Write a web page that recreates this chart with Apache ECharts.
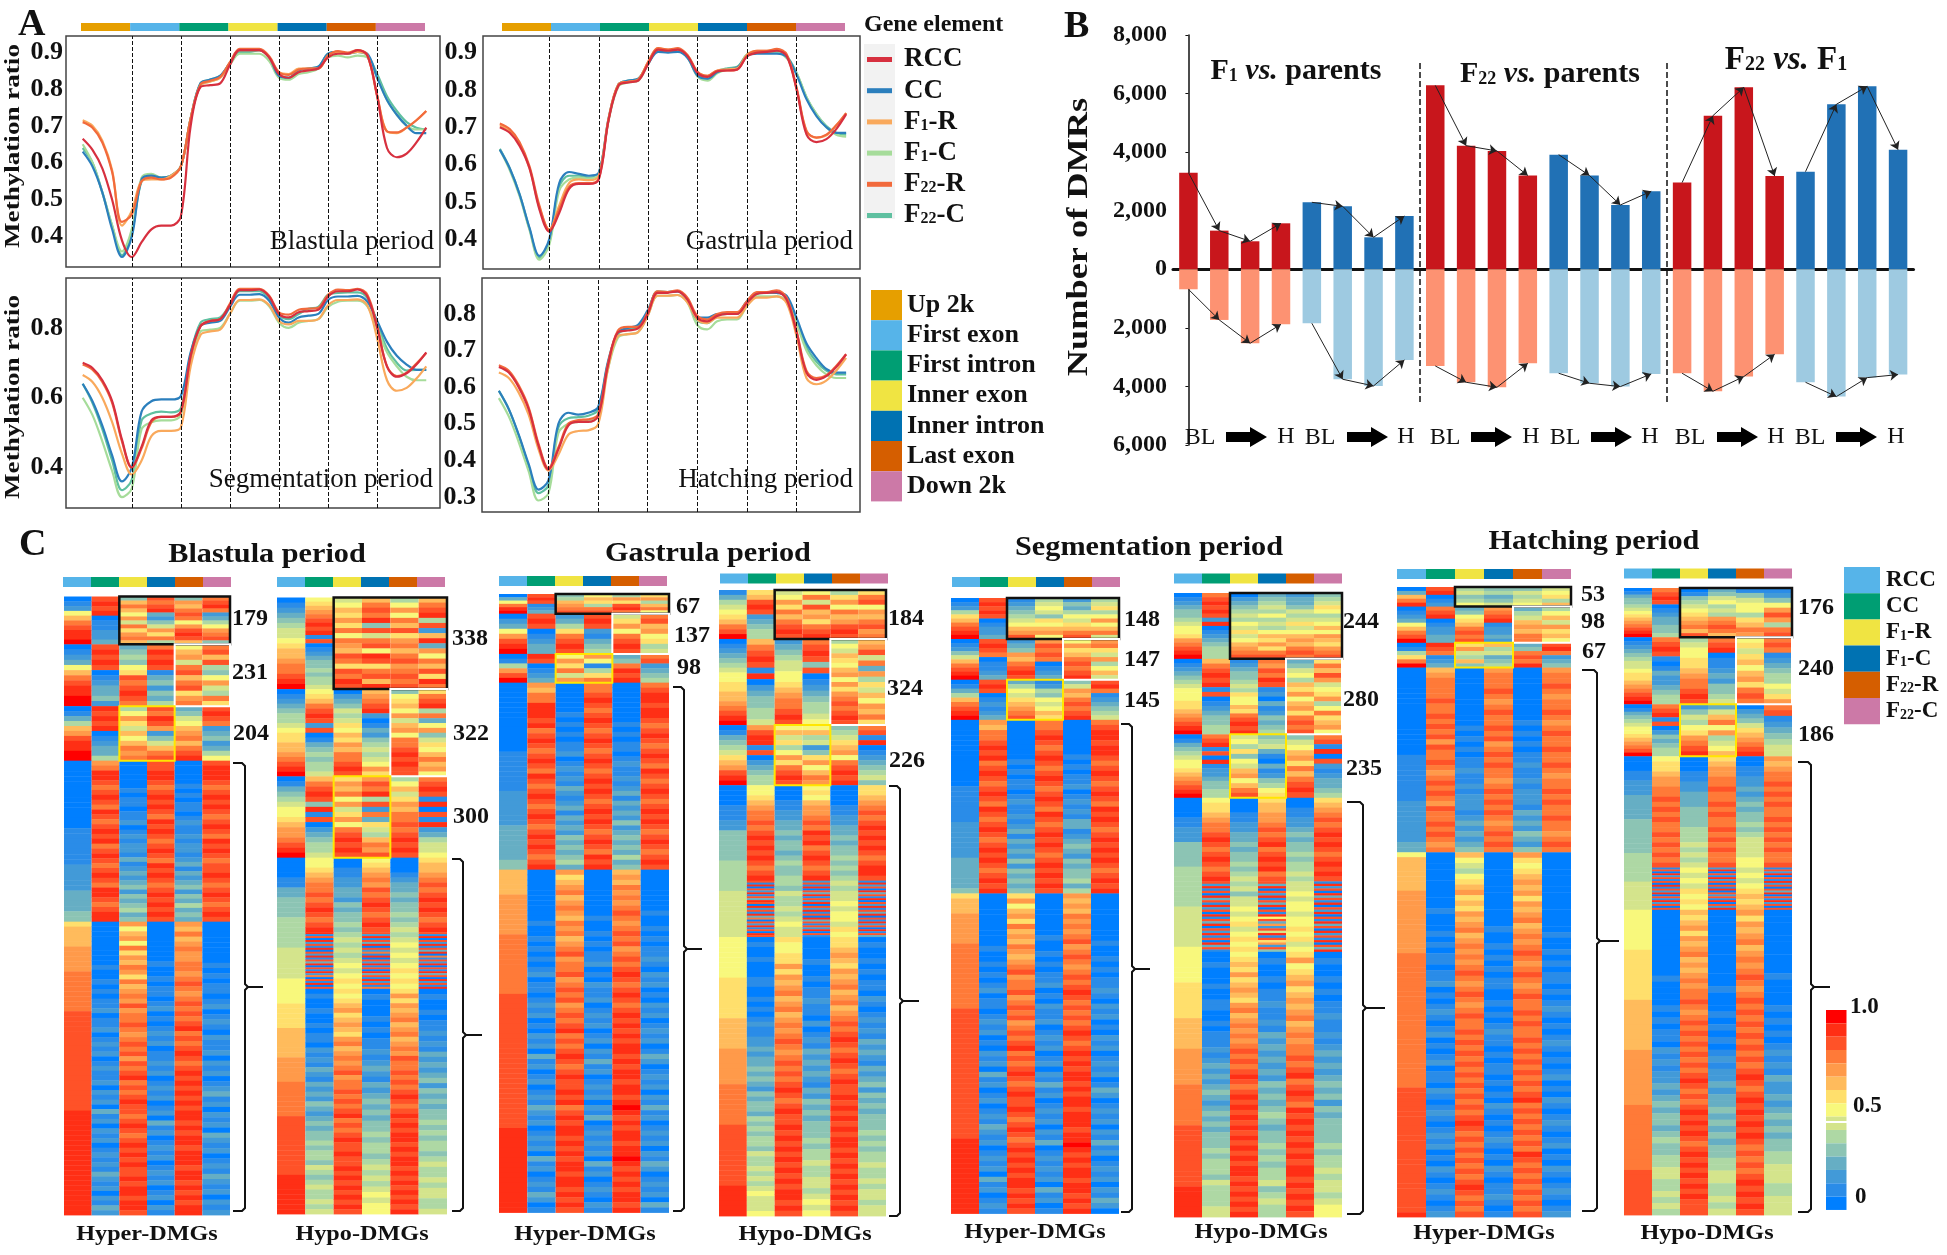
<!DOCTYPE html>
<html>
<head>
<meta charset="utf-8">
<title>Methylation figure</title>
<style>
  html, body { margin: 0; padding: 0; background: #fff; }
  #main { width: 1947px; height: 1255px; }
</style>
<script src="https://cdn.jsdelivr.net/npm/echarts@6/dist/echarts.min.js"></script>
</head>
<body>
<div id="main"></div>
<script>
// ---- panel A: methylation ratio along the gene body
const lineNames = ['F22-C', 'F1-C', 'CC', 'F1-R', 'F22-R', 'RCC']
const legendNames = ['RCC', 'CC', 'F1-R', 'F1-C', 'F22-R', 'F22-C']
const geneElements = ['Up 2k', 'First exon', 'First intron', 'Inner exon', 'Inner intron', 'Last exon', 'Down 2k']
const xBins = [0,2,4,6,8,10, 12,14,16,18,20, 22,24,26,28,30, 32,34,36,38,40, 42,44,46,48,50, 52,54,56,58,60, 62,64,66,68,70]
const segmentEdges = [10, 20, 30, 40, 50, 60]

const blastulaLines = {
  'RCC':   [.665,.635,.585,.500,.390,.345, .385,.420,.430,.430,.455, .700,.805,.810,.815,.865, .905,.905,.905,.885,.840, .830,.845,.850,.855,.885, .895,.895,.905,.890,.780, .640,.615,.625,.655,.695],
  'CC':    [.630,.590,.520,.420,.345,.400, .555,.565,.560,.565,.590, .720,.815,.825,.835,.870, .905,.905,.905,.885,.835, .830,.850,.855,.860,.895, .900,.895,.900,.895,.830, .770,.730,.700,.680,.680],
  'F1-R':  [.715,.700,.660,.580,.430,.470, .550,.555,.555,.565,.590, .720,.810,.820,.830,.870, .905,.905,.905,.885,.845, .840,.855,.855,.855,.890, .900,.895,.900,.890,.780, .685,.680,.695,.715,.740],
  'F1-C':  [.650,.600,.520,.430,.360,.420, .560,.570,.560,.565,.590, .720,.810,.820,.830,.865, .895,.895,.895,.875,.830, .825,.840,.845,.855,.885, .890,.885,.890,.885,.830, .770,.730,.700,.690,.690],
  'F22-R': [.710,.695,.655,.575,.440,.460, .550,.560,.555,.560,.590, .720,.812,.822,.832,.872, .908,.908,.908,.888,.845, .838,.852,.855,.855,.890, .902,.898,.905,.892,.782, .685,.682,.695,.715,.740],
  'F22-C': [.640,.600,.520,.430,.350,.410, .550,.565,.560,.565,.590, .720,.815,.825,.835,.870, .900,.900,.905,.885,.835, .830,.850,.855,.860,.895, .900,.895,.900,.890,.840, .780,.740,.710,.695,.690]
}
const gastrulaLines = {
  'RCC':   [.700,.685,.650,.590,.480,.420, .470,.535,.548,.548,.560, .720,.812,.820,.825,.870, .908,.905,.908,.890,.845, .835,.850,.852,.855,.890, .900,.902,.905,.890,.800, .680,.660,.668,.695,.735],
  'CC':    [.640,.590,.520,.430,.355,.400, .550,.580,.575,.570,.578, .725,.815,.825,.830,.870, .902,.900,.902,.885,.838, .830,.848,.855,.860,.892, .897,.897,.897,.888,.840, .775,.730,.700,.685,.685],
  'F1-R':  [.705,.690,.655,.590,.485,.425, .490,.550,.560,.558,.570, .725,.815,.822,.828,.875, .912,.908,.910,.892,.848, .838,.852,.855,.858,.895, .905,.905,.908,.892,.802, .688,.672,.678,.705,.738],
  'F1-C':  [.640,.585,.515,.425,.345,.385, .530,.560,.565,.562,.575, .720,.810,.820,.825,.870, .905,.905,.905,.885,.835, .825,.845,.855,.860,.895, .900,.900,.900,.885,.845, .780,.735,.700,.680,.675],
  'F22-R': [.710,.695,.660,.595,.490,.425, .480,.540,.550,.550,.562, .722,.815,.822,.828,.875, .912,.908,.912,.892,.848, .838,.852,.852,.855,.893, .905,.905,.910,.895,.805, .690,.672,.680,.705,.738],
  'F22-C': [.642,.590,.520,.428,.350,.392, .540,.570,.570,.565,.575, .722,.815,.825,.830,.872, .908,.905,.908,.888,.840, .830,.850,.858,.862,.895, .902,.902,.902,.890,.845, .780,.735,.703,.685,.680]
}
const segmentationLines = {
  'RCC':   [.700,.685,.650,.590,.480,.400, .460,.535,.545,.545,.560, .720,.805,.820,.825,.865, .908,.908,.910,.890,.840, .830,.845,.848,.852,.890, .905,.905,.910,.890,.800, .690,.660,.670,.695,.730],
  'CC':    [.640,.590,.520,.435,.360,.400, .560,.590,.595,.595,.605, .730,.805,.815,.820,.860, .895,.895,.897,.878,.830, .815,.830,.835,.840,.880, .890,.890,.892,.875,.820, .760,.720,.695,.680,.680],
  'F1-R':  [.665,.645,.600,.530,.440,.380, .420,.490,.505,.505,.515, .690,.780,.790,.795,.840, .880,.880,.882,.865,.820, .810,.820,.820,.825,.865, .880,.880,.882,.865,.770, .650,.620,.628,.655,.690],
  'F1-C':  [.600,.550,.475,.390,.315,.340, .510,.530,.535,.535,.550, .700,.790,.795,.800,.840, .878,.878,.880,.862,.815, .800,.815,.820,.825,.860, .875,.878,.878,.862,.800, .730,.690,.660,.650,.650],
  'F22-R': [.695,.680,.645,.585,.475,.400, .455,.530,.545,.545,.558, .718,.805,.820,.825,.870, .912,.912,.912,.892,.845, .838,.852,.855,.858,.895, .910,.908,.912,.895,.805, .690,.662,.672,.698,.728],
  'F22-C': [.640,.585,.510,.420,.335,.365, .535,.555,.560,.558,.570, .725,.815,.825,.830,.865, .905,.905,.905,.885,.838, .825,.840,.855,.860,.895, .900,.902,.902,.885,.815, .740,.700,.678,.680,.680]
}
const hatchingLines = {
  'RCC':   [.655,.640,.600,.540,.440,.375, .430,.495,.505,.505,.520, .660,.750,.755,.760,.800, .858,.858,.862,.840,.790, .780,.795,.800,.800,.830, .855,.858,.860,.840,.750, .640,.620,.630,.655,.690],
  'CC':    [.590,.540,.470,.390,.320,.345, .500,.530,.525,.530,.545, .670,.750,.762,.770,.810, .860,.860,.862,.842,.790, .790,.800,.800,.802,.835, .858,.860,.858,.850,.790, .720,.680,.650,.640,.640],
  'F1-R':  [.640,.625,.585,.525,.430,.372, .415,.470,.480,.482,.498, .650,.740,.745,.750,.795, .850,.850,.852,.832,.785, .775,.790,.790,.790,.822, .845,.845,.848,.830,.740, .625,.608,.618,.645,.680],
  'F1-C':  [.570,.520,.450,.370,.290,.310, .475,.500,.505,.508,.525, .650,.735,.745,.750,.795, .850,.850,.852,.832,.770, .758,.780,.785,.785,.822, .848,.848,.848,.835,.775, .700,.660,.635,.625,.625],
  'F22-R': [.660,.645,.605,.545,.445,.378, .435,.500,.510,.512,.525, .665,.755,.765,.765,.805, .862,.860,.865,.845,.795, .785,.800,.805,.805,.835, .860,.860,.865,.845,.755, .645,.625,.632,.658,.690],
  'F22-C': [.590,.540,.468,.385,.310,.332, .490,.515,.518,.522,.538, .665,.745,.758,.765,.805, .862,.860,.862,.840,.782, .775,.795,.800,.800,.832, .855,.858,.858,.845,.780, .710,.670,.645,.635,.635]
}
const ticksBlastula = [0.4, 0.5, 0.6, 0.7, 0.8, 0.9]
const ticksGastrula = [0.4, 0.5, 0.6, 0.7, 0.8, 0.9]
const ticksSegmentation = [0.4, 0.6, 0.8]
const ticksHatching = [0.3, 0.4, 0.5, 0.6, 0.7, 0.8]

// ---- panel B: DMR counts, hyper above the axis, hypo below
const dmrUp = [3300,1320,956,1570, 2287,2150,1092,1820, 6280,4220,4040,3200, 3915,3200,2196,2663, 2960,5246,6213,3186, 3334,5633,6247,4085]
const dmrDown = [683,1730,2526,1878, 1844,3755,3983,3095, 3300,3858,4029,3209, 3550,3892,4006,3573, 3550,4165,3664,2902, 3858,4347,3699,3596]
const dmrTicks = [-6000, -4000, -2000, 0, 2000, 4000, 6000, 8000]

// ---- panel C: heatmap cells. One char per row, base 15 level (0 blue ... e red).
// Counts per block come from the labels beside the heatmaps, the last ones are estimated.
const blastulaHyperCounts = [179, 231, 204, 602, 1097]
const blastulaHyper = [
  ['01279bcdde', 'cdcd011223', '49b97a6b8ab9', 'cbcd3246a8b5', '4a9bcb7acdc9', 'bcdb2357abc4'],
  ['012379bcddee', 'cdcdc0123342', '345478cbcdcb', 'bdcdc1342435', '79a6bc9bc8ab', 'bc9c547a65b8'],
  ['01359acddee', 'dcdcd012335', '57a86979bab', 'cbdca2469bc', '34679ab9bcd', 'cdcb2342357'],
  ['0000000000000111111122222333344', 'abddcbcdcbdcbcdcdbcdcbcdcbddcbcdd', '00000010110112012122131232342434534', 'ccddcbcdcdcbdcdcbcdcbdcdcbcdcdcdc', '00000101011012112122123132342435343', 'cdddcbcdcdcbcdcbdcdcbccdcbcdcbcdc'],
  ['89999aaaaabbbbbbbbccccccccccccccccccccddddddddddddddddddddd', '0000000001001010112011201212012112021203120212012121321202132', 'a79a7b8a9ba8b9abacabbcbabcbcacbcdbcbcdccbcdcbcdcdcdccdcddcddc', '00000000100101101201012120112120121201203120121201212012021', 'a9b9abaabbabcbabcbcbcdbcbcdcbcdcdcdcdcddcdcddcdddcddcdcdcdd', '000000001010110120121021120212012312021203212012132120212']
]
const blastulaHypoCounts = [338, 322, 300, 275, 209, 831]
const blastulaHypo = [
  ['012345667899abbcde', '789abcdcd1c01234454556', '6798a8b7ba9cb8cbdc', '9bcbd4c6bc7dc8bc9d', '57a7b9c8ab9bcabcbc', '9bcd5c29d3a7b9c8db'],
  ['0123455678899abcde', '789bcdc2c013454556', '02346568798a9bbcdc', '9abcd20132456567a8', '47897a69a7bbcdcdcc', '8bcd5b37a46879b9a7'],
  ['0134567789aabcde', '9bcdc4d1c0234556', '8a9b7a68a7bcdcdc', 'acbd5c2b38659bac', '57968a9bbcbcdcdc', 'bcdc1d0c1d235667'],
  ['000011334444555', '7789abbcbcdcbcd', '001122332434454', '789abacbcdcbcdc', '000123343445456', '899abcbcdcdcbcd'],
  ['55566666677', 'd1c0d2c1d0c2d1c3d0c1d2b0c1d0c', '56565676787', 'c2d1c3d0c2b1d0c2d1c0d3c1d2c1b', '56767678787', 'c1d0c2d1c3d0b1c2d0c1d3c0d2c1d'],
  ['77788888999999aaaaabbbbbbbccccccccccccdddddddd', '0100100101102121321323243234344545546545655656', '8789a89a98ab9ababcabbcbcbcdbcbcdccdccdcdcdcdcdc', '01000101011212321323434344545545656567677', '8a8a9ab9ab9abacbbcbcbcdcbcdcdcddcdcddcdcdcdcdcd', '0100101121213232342434344545455456556566556']
]
const gastrulaHyperCounts = [67, 137, 98, 637, 1168]
const gastrulaHyper = [
  ['037bde', 'cdc123', '459abc', '7985bc', '5a8cdb', '8a59b7'],
  ['0237acde', 'cdc01233', '2358bcdc', 'cdc21345', '68a7bcdc', 'bc9a7856'],
  ['015ace', 'dc0123', '7a8b6a', 'a7158b', '34bdcd', 'bc2345'],
  ['00000000000000111111112222222333333344', 'a9bbdddcdbcdcbcdcbdcbcdcbcdcbcdcdcbcd', '00000010101011201212132123132324343453', 'bbcdcbcdcbcdcbcdcbcdcdcbcdcdcbcdcbdcd', '00000000101011012112123132324234343534', 'bcddcddcbcdcbcdcbdcbcdcbcdcdcbcdcbcdc'],
  ['99999aaaaaaaabbbbbbbbbbbbcccccccccccccccccccccccccccddddddddddddddddd', '0000000000100101010120110121201021203120120121321201212031201213201', 'a89ab9aba9bab9abcabbcabcbcabcbcdbcbcdcbcdccdcdbcdcddcdcdcddcddcdcdc', '0000000001001010112010211201212012021312012120213012121203120121021', '9a9bababcbabcbcabcbcdcbcdcbcdcdcdcddcdcddcddcdedcdcddcddedcdcdcddcd', '0000000010010101121021201021201212013201212021312012120213201212031']
]
const gastrulaHypoCounts = [184, 324, 226, 359, 212, 1049]
const gastrulaHypo = [
  ['1356789bce', '89cdc23455', '67a8b9bcdc', '7b6c9a8bcd', '58a7b9acdc', '8bc7a9bcab'],
  ['0123456778899abcde', '9bcdc1d02344556', '2345667789abbcdc', 'bcdc4c012345567', '5769879a7a8abcbcdc', '9ac6b3a58697a9b8'],
  ['01345689acde', 'acdd1c023455', '796857a8bcdc', '7956248a79ba', '45689a7bcdcd', 'bc1d01234564'],
  ['0000111224444445555', '7789abbcbcdcdcdcbcd', '0001122334344345445', '7879aabcbdcdbcdcbcd', '0000112233434454545', '889abcbcdcdcdcbcddc'],
  ['55666666666', 'c1d0c2d1c3dc0d2c1d3b0c2d1c0dc', '54655656766', '2c1d0c3d1c2d0c2d1c0d3c1c2d0c1', '65667677687', '1d2c0d3c1d0c2d1c3d0c1d2c0d1c3'],
  ['7777777788888888999999aaaaaaabbbbbbbbccccccccccccdddddd', '01001000110010101211223233434324344354545546556565676667', '87788a8a9ab9ab9ababcbabcbcbcdcbcdccdcdcdcdcdcdcddcdc', '00001001011211020121323232132434344454556556656767', '889a98a9ab9ab9abcbcdcbcdcbcdccdcdcdcdcddcdcdcdcdcdcdc', '0100101011021012121323213234243434445454556556566566']
]
const segmentationHyperCounts = [148, 147, 145, 627, 1156]
const segmentationHyper = [
  ['012589bcde', 'cdcdc01223', '12345679ac', '56764879a7', '24357689bc', '56857a79b6'],
  ['012469bcde', 'cdcb01123', '234a9bcdc', 'acbcb0123', '7a89bcbcd', 'ab86a5796'],
  ['01359bcde', 'cdc012123', '357689abc', '125476798', '46a9bcbcd', 'cdb123456'],
  ['0000000000000111111122222223333334', 'a9bbcdcdbcdcbcdcbdcbcdcbcdcdcbcdcd', '00000000101011012112123132324243434', 'bbcdcbcdcbcdcbcdcbdcbcdcdcbcdcdcdc', '00000001010112012121331234324344535', 'bcddcddcbcdcbcdcbdcdcbcdcdcdcbcdcd'],
  ['8999aaaaaabbbbbbbbbbbbbccccccccccccccccccccccccccddddddddddddddd', '0000000000100101012011012120102120312012012132120121203120121', '8a79a8b9a9ba9abcabbcabcbcabcbcdbcbcdcbcdccdcbcdcbcdcdcdcddcdcdc', '0000000010010101120102112012120120213120121202130121212031201', 'a9a9bababcabcbabcbcdcbcbcbcdcbcdcdcddcdcddcdddcddedcdcddcddcdcd', '0000000001001010112102120102120121201320121202131201212021320']
]
const segmentationHypoCounts = [244, 280, 235, 310, 261, 983]
const segmentationHypo = [
  ['01234456778abcde', 'bcdcdc2d01234555', '0234565768679abc', '345657565798a8bc', '23346568679a9bcb', '4568756797a98abc'],
  ['0123456777889abcde', '9bcdcd1c01234455', '1234456587798bcdcd', 'bacbdc1203124345', '3467598a79a8bcbc', '8b9ca678a57b89a7'],
  ['0134567789abcde', 'bcd1c0d12234455', '67584769a79bc', '4563103124578', '4679a8b9bcdc', 'bc1d0c2123345'],
  ['00001122244444555', '7889abbcdcbcdcbcd', '00011223343445456', '899aabcbcdbcdcdbc', '00112234344545565', '89abcbcdcdcbcdcdc'],
  ['55555666666667', 'c2d1c0d3c1d2c0d1c3d0c2d1c0d3c1', '56466767867878', 'c3d0c2d1c3d0c1d7c3a2c6d1c8a2c4', '66767767787867', '1d2c0d3c1d0c2d0c1d3c0d2c1d0c3d'],
  ['7777778888888999999aaaaaaabbbbbbbbccccccccccccdddddd', '00100010011001011121232323432343434445455546555566', '7898a89a98ab9abababcbcbcdcbcdcdcdcdcdcdcdcddcdcdcdcd', '0100101121121323232324343454344545455645655', '8a789a89a9ab9ababbcbcdbcdcbdcdcdcdcdcddcdcdcdc', '0100101011211212323234342434444545565665677']
]
const hatchingHyperCounts = [53, 98, 67, 500, 987]
const hatchingHyper = [
  ['039bd', 'cd012', '56457', '45346', '46567', '67859'],
  ['012379bce', 'bcd012233', '34789bcbc', 'abcd12232', '3569a9bb', '5796a897'],
  ['0158be', 'dcb123', '8a6594', '956345', '34bcbd', 'cdb234'],
  ['000000000000000001111111112222222233', '9abbbbcbbcbcbcacbbcbabcbcbacbbcbcbab', '00000000000101010112112122212323234', 'abbbcbabcbbcbcabcbcbbabcbcbcbabcbcb', '00000000001010101121121222132324324', 'abbcbabbcbabcbbcbbcbabbcbcbbcbbabcb'],
  ['79999999aaaaaaaaaaaaabbbbbbbbbbbbbbbbbbbbbbbbbbbbccccccccccccccccccccccccccd', '00000000001000101011011201012101201012011021012101212010210121012', '9765789a898a9ab9abababcbabcbabcbbcbcbcbcbcbcbcbcbcdcbcbcbcbcbcdcbcbc', '0000000000000100101010110010101211010110101021010121010210112101', 'a8789a9a8a9ab9ababcbabcbabcbbcbcbbcbcbcbcbcbcdbcbcbcbcbdcbcbcbcbcbc', '0000000000000010010101101012101012101012010210121012010210121012']
]
const hatchingHypoCounts = [176, 240, 186, 398, 151, 1092]
const hatchingHypo = [
  ['0134456789abcde', 'bcdc01233445', '01456789ab9c', '3467565abcb9', '14677589ba', '1247aca5bc'],
  ['012345667889abcde', 'bcdc1013223455', '5677889abbcdc', 'bcd0112324456', '7868979a8bcb', 'bcb123455768a'],
  ['0134567789abce', 'bcd1c0243455', '246578abcd', '369b7a5679', '0234689abcd', 'bc1234566'],
  ['00011222333334444444555', '7889aabbcbcbcbbcbcbcbc', '0001122333444455565656', '89aabbcbbcbcbbcbcbcbbc', '0011223234344545666677', 'a9abbcbcbcbbcbcbcbcbbc'],
  ['555666666', '1c0d2c1c0d1c2d0c1d2c0c', '76768787', '2d0c1d2c0c1d0c2c1d0c2d', '67678989', '1c2d0c1d2c0c3d0c1d2c0c'],
  ['7777777788888888889999999999aaaaaaaaaaabbbbbbbbbbbbbccccccccc', '000000000001000010101102121223234344345445566556565', '989a8a9ab9a9ababbcbabcbcbcbcbcbcdcbcbcdcdcdcbcdcdcdcdcdccc', '000000000000100010101012122323343434344556655656', 'a8a9ab9ababcbabcbcbcbcbcbcbcdcbcdcdcdcdcbcbcbcdcdcdc', '000000000010000101010121213223234343445566655666']
]

const heatmaps = [
  [blastulaHyperCounts, blastulaHyper], [blastulaHypoCounts, blastulaHypo],
  [gastrulaHyperCounts, gastrulaHyper], [gastrulaHypoCounts, gastrulaHypo],
  [segmentationHyperCounts, segmentationHyper], [segmentationHypoCounts, segmentationHypo],
  [hatchingHyperCounts, hatchingHyper], [hatchingHypoCounts, hatchingHypo]
]

// ---- layout and colours
const SERIF = '"Liberation Serif", serif'
const lineColors = { 'RCC': '#d7303f', 'CC': '#2b7fbd', 'F1-R': '#f9a95c', 'F1-C': '#a6dc9a', 'F22-R': '#f26a3c', 'F22-C': '#5fc0a0' }
const elementColors = ['#E69F00', '#56B4E9', '#009E73', '#F0E442', '#0072B2', '#D55E00', '#CC79A7']
const sampleColors = ['#56B4E9', '#009E73', '#F0E442', '#0072B2', '#D55E00', '#CC79A7']
const levelColors = ['#007fff', '#2a8ce8', '#429ad8', '#66aec4', '#8cc4b4', '#aed8a4', '#d4e48c', '#f8f87c', '#ffdf6c', '#ffbb5c', '#ff9a4a', '#ff7a38', '#ff5228', '#ff2f15', '#ff0000']
const boxColors = ['#111', '#fff', '#ffe600']

const linePanels = [
  { rect: [66, 36, 374, 231], min: 0.318, max: 0.943, ticks: ticksBlastula, data: blastulaLines, title: 'Blastula period', tx: 434, ty: 242, strip: [81, 23, 344, 8], margin: 3 },
  { rect: [483, 36, 377, 233], min: 0.32, max: 0.9445, ticks: ticksGastrula, data: gastrulaLines, title: 'Gastrula period', tx: 853, ty: 242, strip: [502, 23, 343, 8], margin: 6 },
  { rect: [66, 278, 374, 230], min: 0.284, max: 0.943, ticks: ticksSegmentation, data: segmentationLines, title: 'Segmentation period', tx: 433, ty: 480, margin: 3 },
  { rect: [482, 278, 378, 234], min: 0.2586, max: 0.8985, ticks: ticksHatching, data: hatchingLines, title: 'Hatching period', tx: 853, ty: 480, margin: 6 }
]

const heatRects = [
  [64, 596.5, 166, 618.5], [277, 597.5, 170, 616.5], [499, 594, 170, 618.5], [719, 590, 167, 626],
  [951, 598, 168, 615.5], [1174, 593, 168, 624], [1397, 587, 174, 630], [1624, 588, 168, 627]
]
const heatStrips = [
  [63, 577, 168], [277, 577, 168], [499, 576, 168], [720, 573.5, 168],
  [952, 577, 168], [1174, 573.5, 168], [1397, 569, 174], [1624, 568.5, 168]
]
const heatTitles = [['Blastula period', 267, 555], ['Gastrula period', 708, 554], ['Segmentation period', 1149, 548], ['Hatching period', 1594, 542]]
const heatFoot = [
  ['Hyper-DMGs', 147, 1234], ['Hypo-DMGs', 362, 1234], ['Hyper-DMGs', 585, 1234], ['Hypo-DMGs', 805, 1234],
  ['Hyper-DMGs', 1035, 1232], ['Hypo-DMGs', 1261, 1232], ['Hyper-DMGs', 1484, 1233], ['Hypo-DMGs', 1707, 1233]
]
const blockLabels = [
  ['179', 232, 619], ['231', 232, 673], ['204', 233, 734], ['338', 452, 639], ['322', 453, 734], ['300', 453, 817],
  ['67', 676, 607], ['137', 674, 636], ['98', 677, 668], ['184', 888, 619], ['324', 887, 689], ['226', 889, 761],
  ['148', 1124, 620], ['147', 1124, 660], ['145', 1124, 701], ['244', 1343, 622], ['280', 1343, 700], ['235', 1346, 769],
  ['53', 1581, 595], ['98', 1581, 622], ['67', 1582, 652], ['176', 1798, 608], ['240', 1798, 669], ['186', 1798, 735]
]
const brackets = [
  [233, 245, 263, 763, 987, 1211], [452, 463, 482, 859, 1035, 1211], [673, 684, 702, 687, 949, 1211], [889, 900, 919, 786, 1001, 1216],
  [1121, 1132, 1150, 724, 969, 1212], [1347, 1363, 1385, 802, 1008, 1214], [1582, 1597, 1619, 670, 941, 1211], [1798, 1811, 1830, 762, 987, 1212]
]
const flowLabels = [[1200, 1226, 1286], [1320, 1347, 1406], [1445, 1471, 1531], [1565, 1591, 1650], [1690, 1717, 1776], [1810, 1836, 1896]]

const grid = [], xAxis = [], yAxis = [], series = [], elements = []

function text(str, x, y, size, opt) {
  opt = opt || {}
  elements.push({
    type: 'text', x: x, y: y, rotation: opt.rotation || 0, scaleX: opt.scaleX || 1, z: 10,
    style: Object.assign({ text: str, fontFamily: SERIF, fontSize: size, fontWeight: 'bold', fill: '#111', align: 'left', verticalAlign: 'middle' }, opt.style)
  })
}
function rect(x, y, w, h, fill, z) {
  elements.push({ type: 'rect', z: z === undefined ? 5 : z, shape: { x: x, y: y, width: w, height: h }, style: { fill: fill } })
}
function strip(x, y, w, h, colors) {
  colors.forEach(function (c, i) { rect(x + i * w / colors.length, y, w / colors.length, h, c) })
}

// panel A
linePanels.forEach(function (p, k) {
  grid.push({ left: p.rect[0], top: p.rect[1], width: p.rect[2], height: p.rect[3], show: true, borderColor: '#444', borderWidth: 1.5, outerBoundsMode: 'none' })
  xAxis.push({ gridIndex: k, type: 'value', min: -3.4, max: 72.8, axisLine: { show: false }, axisTick: { show: false }, axisLabel: { show: false }, splitLine: { show: false } })
  yAxis.push({
    gridIndex: k, type: 'value', min: p.min, max: p.max,
    axisLine: { show: false }, axisTick: { show: false }, splitLine: { show: false },
    axisLabel: { customValues: p.ticks, margin: p.margin, fontFamily: SERIF, fontWeight: 'bold', fontSize: 26, color: '#111', formatter: function (v) { return v.toFixed(1) } }
  })
  lineNames.forEach(function (n, i) {
    series.push({
      type: 'line', name: n, xAxisIndex: k, yAxisIndex: k, smooth: 0.35, showSymbol: false, silent: true,
      lineStyle: { width: 2.2, color: lineColors[n] }, itemStyle: { color: lineColors[n] },
      data: xBins.map(function (x, j) { return [x, p.data[n][j]] }),
      markLine: i ? undefined : {
        silent: true, symbol: 'none', label: { show: false }, animation: false,
        lineStyle: { color: '#111', width: 1, type: 'dashed' },
        data: segmentEdges.map(function (x) { return { xAxis: x } })
      }
    })
  })
  if (p.strip) strip(p.strip[0], p.strip[1], p.strip[2], p.strip[3], elementColors)
  text(p.title, p.tx, p.ty, 27, { style: { fontWeight: 'normal', align: 'right' } })
})
text('Methylation ratio', 14, 146, 21, { rotation: Math.PI / 2, scaleX: 1.29, style: { align: 'center' } })
text('Methylation ratio', 14, 397, 21, { rotation: Math.PI / 2, scaleX: 1.29, style: { align: 'center' } })

// legends of panel A
text('Gene element', 864, 25, 24)
rect(864, 44, 31, 175, '#f2f2f2', -1)
geneElements.forEach(function (n, i) {
  rect(871, 290 + i * 30.2, 31, 30.2, elementColors[i])
  text(n, 907, 305 + i * 30.2, 26)
})

// panel B
const bIdx = grid.length
grid.push({ left: 1173, top: 35, width: 740.5, height: 410, outerBoundsMode: 'none' })
xAxis.push({ gridIndex: bIdx, type: 'value', min: -0.5, max: 23.5, axisLine: { onZero: true, lineStyle: { color: '#111', width: 3 } }, axisTick: { show: false }, axisLabel: { show: false }, splitLine: { show: false } })
yAxis.push({
  gridIndex: bIdx, type: 'value', min: dmrTicks[0], max: dmrTicks[dmrTicks.length - 1], interval: 2000,
  axisLine: { show: true, lineStyle: { color: '#111', width: 1.5 } }, axisTick: { show: true, length: 3, lineStyle: { color: '#111' } }, splitLine: { show: false },
  axisLabel: { margin: 6, fontFamily: SERIF, fontWeight: 'bold', fontSize: 24, color: '#111', formatter: function (v) { return Math.abs(v).toLocaleString('en-US') } }
})
text('Number of DMRs', 1079, 237, 30, { rotation: Math.PI / 2, scaleX: 1.21, style: { align: 'center' } })
function barColor(i, dark, light) { return Math.floor(i / 4) % 2 === 0 ? dark : light }
function arrowPairs(values, sign) {
  const pairs = []
  for (let i = 0; i < values.length - 1; i++) {
    if (i % 4 !== 3) pairs.push([{ coord: [i, sign * values[i]] }, { coord: [i + 1, sign * values[i + 1]] }])
  }
  return pairs
}
const arrowLine = { silent: true, symbol: ['none', 'arrow'], symbolSize: 8, label: { show: false }, animation: false, lineStyle: { color: '#222', width: 1, type: 'solid' } }
series.push({
  type: 'bar', name: 'Hyper', xAxisIndex: bIdx, yAxisIndex: bIdx, stack: 'dmr', barWidth: 18.5, silent: true,
  data: dmrUp.map(function (v, i) { return { value: [i, v], itemStyle: { color: barColor(i, '#c8161c', '#2171b5') } } }),
  markLine: Object.assign({ data: arrowPairs(dmrUp, 1) }, arrowLine)
})
series.push({
  type: 'bar', name: 'Hypo', xAxisIndex: bIdx, yAxisIndex: bIdx, stack: 'dmr', barWidth: 18.5, silent: true,
  data: dmrDown.map(function (v, i) { return { value: [i, -v], itemStyle: { color: barColor(i, '#fd9272', '#9ecae1') } } }),
  markLine: Object.assign({}, arrowLine, {
    data: arrowPairs(dmrDown, -1).concat([7.5, 15.5].map(function (x) {
      return [{ coord: [x, 7040], lineStyle: { type: 'dashed', width: 1.5, color: '#111' }, symbol: 'none' }, { coord: [x, -4560], symbol: 'none' }]
    }))
  })
})
function groupRich(size, sub) {
  return {
    n: { fontFamily: SERIF, fontWeight: 'bold', fontSize: size, fill: '#111' },
    s: { fontFamily: SERIF, fontWeight: 'bold', fontSize: sub, fill: '#111', padding: [10, 0, 0, 0] },
    i: { fontFamily: SERIF, fontWeight: 'bold', fontStyle: 'italic', fontSize: size, fill: '#111' }
  }
}
text('{n|F}{s|1}{i| vs.}{n| parents}', 1296, 71, 30, { style: { align: 'center', rich: groupRich(30, 18) } })
text('{n|F}{s|22}{i| vs.}{n| parents}', 1550, 74, 30, { style: { align: 'center', rich: groupRich(30, 18) } })
text('{n|F}{s|22}{i| vs.}{n| F}{s|1}', 1786, 60, 33, { style: { align: 'center', rich: groupRich(33, 20) } })
flowLabels.forEach(function (f) {
  text('BL', f[0], 438, 24, { style: { fontWeight: 'normal', align: 'center' } })
  text('H', f[2], 437, 24, { style: { fontWeight: 'normal', align: 'center' } })
  const a = f[1], y = 437
  elements.push({ type: 'polygon', z: 5, shape: { points: [[a, y - 5], [a + 24, y - 5], [a + 24, y - 10], [a + 41, y], [a + 24, y + 10], [a + 24, y + 5], [a, y + 5]] }, style: { fill: '#000' } })
})

// panel C heatmaps
function heatCells(counts, blocks) {
  const cells = []
  let start = 0
  blocks.forEach(function (cols, b) {
    cols.forEach(function (s, c) {
      const h = counts[b] / s.length
      for (let r = 0; r < s.length; r++) {
        cells.push([c, start + r * h, start + (r + 1) * h, (parseInt(s[r], 15) + 0.5) / 15])
      }
    })
    start += counts[b]
  })
  return cells
}
function renderCell(params, api) {
  const a = api.coord([api.value(0), api.value(1)])
  const b = api.coord([api.value(0) + 1, api.value(2)])
  return { type: 'rect', shape: { x: a[0], y: a[1], width: b[0] - a[0], height: b[1] - a[1] + 0.4 }, style: { fill: api.visual('color') } }
}
function renderBox(params, api) {
  const a = api.coord([api.value(0), api.value(2)])
  const b = api.coord([api.value(1), api.value(3)])
  return { type: 'rect', shape: { x: a[0], y: a[1], width: b[0] - a[0], height: b[1] - a[1] }, style: { fill: 'none', stroke: boxColors[params.dataIndex], lineWidth: params.dataIndex ? 2 : 2.5 } }
}
const cellSeries = []
heatmaps.forEach(function (h, k) {
  const counts = h[0], g = grid.length, r = heatRects[k]
  const total = counts.reduce(function (a, b) { return a + b }, 0)
  grid.push({ left: r[0], top: r[1], width: r[2], height: r[3], outerBoundsMode: 'none' })
  xAxis.push({ gridIndex: g, type: 'value', min: 0, max: 6, show: false })
  yAxis.push({ gridIndex: g, type: 'value', min: 0, max: total, inverse: true, show: false })
  cellSeries.push(series.length)
  series.push({ type: 'custom', xAxisIndex: g, yAxisIndex: g, silent: true, animation: false, renderItem: renderCell, data: heatCells(counts, h[1]) })
  series.push({
    type: 'custom', xAxisIndex: g, yAxisIndex: g, silent: true, animation: false, z: 5, renderItem: renderBox,
    data: [[2, 6, 0, counts[0]], [4, 6, counts[0], counts[0] + counts[1]], [2, 4, counts[0] + counts[1], counts[0] + counts[1] + counts[2]]]
  })
  const st = heatStrips[k]
  strip(st[0], st[1], st[2], 10, sampleColors)
  const br = brackets[k]
  elements.push({
    type: 'polyline', z: 6, shape: { points: [[br[0], br[3]], [br[1] - 3, br[3]], [br[1], br[3] + 3], [br[1], br[4] - 3], [br[1] + 3, br[4]], [br[2], br[4]], [br[1] + 3, br[4]], [br[1], br[4] + 3], [br[1], br[5] - 3], [br[1] - 3, br[5]], [br[0], br[5]]] },
    style: { stroke: '#111', lineWidth: 2, fill: 'none' }
  })
})
heatTitles.forEach(function (t) { text(t[0], t[1], t[2], 27, { scaleX: 1.12, style: { align: 'center' } }) })
heatFoot.forEach(function (t) { text(t[0], t[1], t[2], 22, { scaleX: 1.1, style: { align: 'center' } }) })
blockLabels.forEach(function (t) { text(t[0], t[1], t[2], 24) })

// sample legend of panel C and colour bar labels
const subRich = { n: { fontFamily: SERIF, fontWeight: 'bold', fontSize: 23, fill: '#111' }, s: { fontFamily: SERIF, fontWeight: 'bold', fontSize: 14, fill: '#111', padding: [8, 0, 0, 0] } }
function subLabel(n) {
  const m = n.match(/^F(\d+)(.*)$/)
  return m ? '{n|F}{s|' + m[1] + '}{n|' + m[2] + '}' : '{n|' + n + '}'
}
legendNames.forEach(function (n, i) {
  rect(1844, 567 + i * 26.2, 36, 26.2, sampleColors[i])
  text(subLabel(n), 1886, 580 + i * 26.2, 23, { style: { rich: subRich } })
})
text('A', 18, 25, 38)
text('B', 1064, 27, 38)
text('C', 19, 545, 38)
text('1.0', 1850, 1007, 23)
text('0.5', 1853, 1106, 23)
text('0', 1855, 1197, 23)
rect(1826, 1121, 21, 2, '#fff', 20)

const legendRich = {
  g: { width: 7 },
  n: { fontFamily: SERIF, fontWeight: 'bold', fontSize: 27, lineHeight: 25, color: '#111' },
  s: { fontFamily: SERIF, fontWeight: 'bold', fontSize: 16, lineHeight: 25, color: '#111', padding: [7, 0, 0, 0] }
}

const chart = echarts.init(document.getElementById('main'), null, { renderer: 'canvas' })
chart.setOption({
  backgroundColor: '#fff',
  animation: false,
  grid: grid,
  xAxis: xAxis,
  yAxis: yAxis,
  legend: {
    orient: 'vertical', left: 867, top: 46, padding: 0, itemWidth: 25, itemHeight: 5, itemGap: 4.2, icon: 'rect',
    selectedMode: false, data: legendNames, formatter: function (n) { return '{g|}' + subLabel(n) }, textStyle: { rich: legendRich }
  },
  visualMap: {
    type: 'piecewise', seriesIndex: cellSeries, dimension: 3, left: 1826, top: 1010, padding: 0,
    itemWidth: 20.5, itemHeight: 13.33, itemGap: 0, itemSymbol: 'rect', showLabel: false, selectedMode: false,
    pieces: levelColors.map(function (c, i) { return { min: i / 15, max: (i + 1) / 15, color: c } })
  },
  series: series,
  graphic: { elements: elements }
})
</script>
</body>
</html>
